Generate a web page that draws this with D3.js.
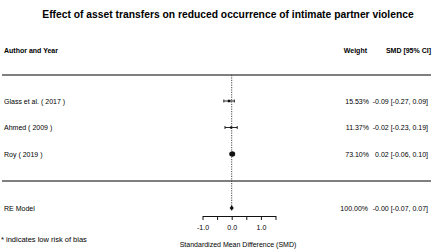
<!DOCTYPE html>
<html><head><meta charset="utf-8">
<script src="https://cdn.jsdelivr.net/npm/d3@7"></script>
<style>body{margin:0;background:#fff}svg{display:block}text{font-family:"Liberation Sans",Arial,sans-serif;fill:#000}</style>
</head><body>
<script>
const title = "Effect of asset transfers on reduced occurrence of intimate partner violence";
const studies = ["Glass et al. ( 2017 )", "Ahmed ( 2009 )", "Roy ( 2019 )"];
const estimates = [-0.09, -0.02, 0.02];
const lowerCI = [-0.27, -0.23, -0.06];
const upperCI = [0.09, 0.19, 0.10];
const weights = [15.53, 11.37, 73.10];
const pooled = {label: "RE Model", est: -0.00, lo: -0.07, hi: 0.07, weight: 100.00};
const tickValues = [-1.0, -0.5, 0.0, 0.5, 1.0, 1.5];
const tickLabels = ["-1.0", "", "0.0", "", "1.0", ""];
const xTitle = "Standardized Mean Difference (SMD)";
const footnote = "* indicates low risk of bias";

const W = 435, H = 251, FS = 7;
const svg = d3.select("body").append("svg").attr("width", W).attr("height", H);
const x = d3.scaleLinear().domain([-1, 1.5]).range([202.5, 275.5]);
const y = d3.scaleLinear().domain([0, 2]).range([101, 154]);
const yPooled = 208;
const fmt = v => (v < 0 || Object.is(v, -0) ? "-" : "") + Math.abs(v).toFixed(2);
const fmtW = v => v.toFixed(2) + "%";

svg.append("text").attr("x", 228).attr("y", 18).attr("text-anchor", "middle")
  .attr("font-size", 10.3).attr("font-weight", "bold").text(title);

svg.append("text").attr("x", 4).attr("y", 52.5).attr("font-size", FS).attr("font-weight", "bold").text("Author and Year");
svg.append("text").attr("x", 367).attr("y", 52.5).attr("text-anchor", "end").attr("font-size", FS).attr("font-weight", "bold").text("Weight");
svg.append("text").attr("x", 431).attr("y", 52.5).attr("text-anchor", "end").attr("font-size", FS).attr("font-weight", "bold").text("SMD [95% CI]");

[75, 181].forEach(yy => svg.append("line").attr("x1", 2).attr("x2", 431).attr("y1", yy).attr("y2", yy)
  .attr("stroke", "#555").attr("stroke-width", 1.3));

svg.append("line").attr("x1", x(0)).attr("x2", x(0)).attr("y1", 75).attr("y2", yPooled - 2)
  .attr("stroke", "#444").attr("stroke-width", 1).attr("stroke-dasharray", "1.2,1.2");

const maxW = d3.max(weights);
const sz = d3.scaleSqrt().domain([0, maxW]).range([0, 5.5]);

studies.forEach((s, i) => {
  const yy = y(i);
  const g = svg.append("g");
  g.append("text").attr("x", 4).attr("y", yy + 2.5).attr("font-size", FS).text(s);
  g.append("text").attr("x", 369).attr("y", yy + 2.5).attr("text-anchor", "end").attr("font-size", FS).text(fmtW(weights[i]));
  g.append("text").attr("x", 428).attr("y", yy + 2.5).attr("text-anchor", "end").attr("font-size", FS)
    .text(`${fmt(estimates[i])} [${fmt(lowerCI[i])}, ${fmt(upperCI[i])}]`);
  g.append("line").attr("x1", x(lowerCI[i])).attr("x2", x(upperCI[i])).attr("y1", yy).attr("y2", yy).attr("stroke", "#111").attr("stroke-width", 0.9);
  [lowerCI[i], upperCI[i]].forEach(v => g.append("line").attr("x1", x(v)).attr("x2", x(v)).attr("y1", yy - 1.5).attr("y2", yy + 1.5).attr("stroke", "#111").attr("stroke-width", 0.9));
  const s2 = Math.max(2, sz(weights[i]));
  g.append("rect").attr("x", x(estimates[i]) - s2 / 2).attr("y", yy - s2 / 2).attr("width", s2).attr("height", s2)
    .attr("rx", s2 > 3 ? s2 / 2 : 0).attr("fill", "#111");
});

svg.append("text").attr("x", 4).attr("y", yPooled + 2.5).attr("font-size", FS).text(pooled.label);
svg.append("text").attr("x", 368).attr("y", yPooled + 2.5).attr("text-anchor", "end").attr("font-size", FS).text(fmtW(pooled.weight));
svg.append("text").attr("x", 428).attr("y", yPooled + 2.5).attr("text-anchor", "end").attr("font-size", FS)
  .text(`${fmt(pooled.est)} [${fmt(pooled.lo)}, ${fmt(pooled.hi)}]`);
svg.append("path").attr("d", `M${x(pooled.lo)},${yPooled} L${x(pooled.est)},${yPooled - 2.8} L${x(pooled.hi)},${yPooled} L${x(pooled.est)},${yPooled + 2.8} Z`).attr("fill", "#111");

const axis = d3.axisBottom(x).tickValues(tickValues).tickFormat((d, i) => tickLabels[i]).tickSize(4).tickSizeOuter(0).tickPadding(5);
const ag = svg.append("g").attr("transform", "translate(0,216)").call(axis);
ag.select(".domain").attr("stroke", "#111").attr("stroke-width", 1);
ag.selectAll(".tick line").attr("stroke", "#111").attr("stroke-width", 1);
ag.selectAll(".tick text").attr("font-size", FS).attr("font-family", "Liberation Sans, Arial, sans-serif").attr("fill", "#000");

svg.append("text").attr("x", 238).attr("y", 247).attr("text-anchor", "middle").attr("font-size", FS).text(xTitle);
svg.append("text").attr("x", 1).attr("y", 242).attr("font-size", 7.5).text(footnote);
</script>
</body></html>
